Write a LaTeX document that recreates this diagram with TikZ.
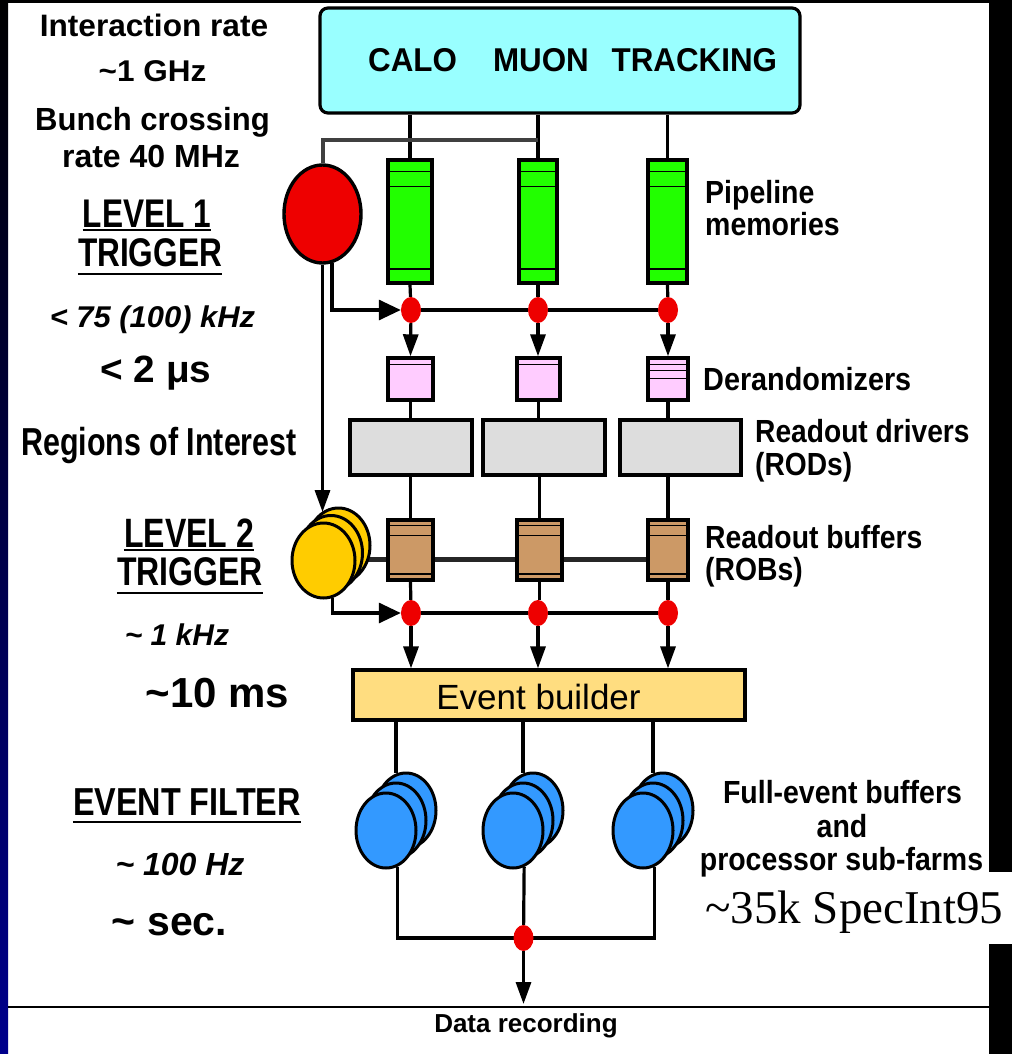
\documentclass[tikz,border=0pt]{standalone}
\usepackage{fontspec}
\setmainfont{Liberation Sans}
\newfontfamily\timesf{Liberation Serif}
\usetikzlibrary{arrows.meta,shapes.geometric,calc}
\pgfdeclarelayer{back}
\pgfdeclarelayer{bg}
\pgfsetlayers{back,bg,main}
\definecolor{cyanbox}{HTML}{99FFFF}
\definecolor{pipegreen}{HTML}{22FF00}
\definecolor{derpink}{HTML}{FFCCFF}
\definecolor{rodgray}{HTML}{DDDDDD}
\definecolor{robbrown}{HTML}{CC9966}
\definecolor{l2yellow}{HTML}{FFCC00}
\definecolor{ebyellow}{HTML}{FFDD80}
\definecolor{efblue}{HTML}{3399FF}
\definecolor{dotred}{HTML}{EE0000}
\definecolor{l1red}{HTML}{EE0000}
\definecolor{stripnavy}{RGB}{0,0,140}
\newcommand{\lb}[3]{\scalebox{#1}[1]{\fontsize{#2}{#2}\selectfont\bfseries #3}}
\newcommand{\lbi}[3]{\scalebox{#1}[1]{\fontsize{#2}{#2}\selectfont\bfseries\itshape #3}}
\newcommand{\lr}[3]{\scalebox{#1}[1]{\fontsize{#2}{#2}\selectfont #3}}
\begin{document}
\begin{tikzpicture}[x=1pt,y=-1pt,
  lbl/.style={inner sep=0pt,anchor=base},
  lblw/.style={inner sep=0pt,anchor=base west},
  conn/.style={line width=3.2pt,draw=black},
  arr/.style={conn,-{Triangle[length=22pt,width=15pt]}},
  harr/.style={conn,-{Triangle[length=22pt,width=20pt]}},
  dotn/.style={ellipse,fill=dotred,inner sep=0pt,minimum width=20pt,minimum height=26pt},
  unit/.style={draw=black,line width=3.4pt,inner sep=0pt},
  pipe/.style={unit,fill=pipegreen,minimum height=123pt},
  derand/.style={unit,fill=derpink,minimum height=42pt},
  rodbox/.style={unit,fill=rodgray,minimum width=122pt,minimum height=55pt},
  robbox/.style={unit,fill=robbrown,minimum height=60pt},
  l2e/.style={ellipse,draw=black,line width=3pt,fill=l2yellow,minimum width=63pt,minimum height=75pt,inner sep=0pt},
  efe/.style={ellipse,draw=black,line width=3pt,fill=efblue,minimum width=60pt,minimum height=75pt,inner sep=0pt},
  stripe/.style={line width=1.6pt},
  uline/.style={line width=2.6pt}
]
\useasboundingbox (0,0) rectangle (1012,1054);
\begin{pgfonlayer}{back}
  \fill[white] (0,0) rectangle (1012,1054);
  \shade[top color=black,bottom color=stripnavy] (0,0) rectangle (8,1054);
  \fill[black] (0,0) rectangle (1012,3);
  \fill[black] (989,0) rectangle (1012,872);
  \fill[black] (989,944) rectangle (1012,1054);
  \draw[line width=1.3pt,black] (8,1007) -- (989,1007);
\end{pgfonlayer}

% detector box
\node[draw=black,line width=3.2pt,rounded corners=8pt,fill=cyanbox,minimum width=480pt,minimum height=105pt] (det) at (560,60.5) {};
\node[lblw] (tdet) at (368,72) {\lb{0.95}{33}{CALO\hspace{38pt}MUON\hspace{24pt}TRACKING}};

% level 1 trigger
\node[ellipse,draw=black,line width=3.4pt,fill=l1red,minimum width=77pt,minimum height=98pt,inner sep=0pt] (l1) at (322.5,214) {};

% pipelines
\node[pipe,minimum width=44pt] (p1) at (410,221.5) {};
\node[pipe,minimum width=38pt] (p2) at (538,221.5) {};
\node[pipe,minimum width=39pt] (p3) at (667.5,221.5) {};
\foreach \n in {p1,p2,p3}{
  \draw[stripe] ([yshift=-13pt]\n.north west) -- ([yshift=-13pt]\n.north east);
  \draw[stripe] ([yshift=-28pt]\n.north west) -- ([yshift=-28pt]\n.north east);
  \draw[stripe] ([yshift=16pt]\n.south west) -- ([yshift=16pt]\n.south east);
}
\node[dotn] (d11) at (411,310) {};
\node[dotn] (d12) at (538,310) {};
\node[dotn] (d13) at (668,310) {};

% derandomizers
\node[derand,minimum width=45pt] (dr1) at (410.5,379) {};
\node[derand,minimum width=43pt] (dr2) at (538.5,379) {};
\node[derand,minimum width=40pt] (dr3) at (668,379) {};
\foreach \n in {dr1,dr2}{
  \draw[stripe] ([yshift=-8pt]\n.north west) -- ([yshift=-8pt]\n.north east);
}
\draw[stripe] ([yshift=-8pt]dr3.north west) -- ([yshift=-8pt]dr3.north east);
\draw[stripe] ([yshift=-14pt]dr3.north west) -- ([yshift=-14pt]dr3.north east);
\draw[stripe] ([yshift=-22pt]dr3.north west) -- ([yshift=-22pt]dr3.north east);

% RODs
\node[rodbox] (rod1) at (411,447.5) {};
\node[rodbox] (rod2) at (544,447.5) {};
\node[rodbox,minimum width=121pt] (rod3) at (680.5,447.5) {};

% ROBs
\node[robbox,minimum width=45pt] (rob1) at (410.5,550) {};
\node[robbox,minimum width=45pt] (rob2) at (539.5,550) {};
\node[robbox,minimum width=40pt] (rob3) at (668,550) {};
\foreach \n in {rob1,rob2,rob3}{
  \draw[stripe] ([yshift=-7pt]\n.north west) -- ([yshift=-7pt]\n.north east);
  \draw[stripe] ([yshift=-17pt]\n.north west) -- ([yshift=-17pt]\n.north east);
  \draw[stripe] ([yshift=8pt]\n.south west) -- ([yshift=8pt]\n.south east);
}

% level 2 trigger stack
\node[l2e] (l2c) at (338.5,545.5) {};
\node[l2e] (l2b) at (331,553) {};
\node[l2e] (l2a) at (323.5,560.5) {};

\node[dotn] (d21) at (411,613) {};
\node[dotn] (d22) at (538,613) {};
\node[dotn] (d23) at (668,613) {};

% event builder
\node[draw=black,line width=3.2pt,fill=ebyellow,minimum width=392pt,minimum height=50pt,inner sep=0pt] (eb) at (549,695) {};
\node[lbl] (teb) at (538.5,709) {\lr{1}{35}{Event builder}};

% event filter stacks
\node[efe] (b1c) at (406,810.5) {};
\node[efe] (b1b) at (396,820.5) {};
\node[efe] (b1a) at (386,830.5) {};
\node[efe] (b2c) at (533,810.5) {};
\node[efe] (b2b) at (523,820.5) {};
\node[efe] (b2a) at (513,830.5) {};
\node[efe] (b3c) at (663,810.5) {};
\node[efe] (b3b) at (653,820.5) {};
\node[efe] (b3a) at (643,830.5) {};
\node[dotn] (dd) at (523.5,938) {};
\coordinate (rec) at (523.5,1004);
\coordinate (j1) at (538,140);
\coordinate (busy) at (0,559);

% connectors
\begin{pgfonlayer}{bg}
  \draw[conn] (p1 |- det.south) -- (p1.north);
  \draw[conn] (p2 |- det.south) -- (p2.north);
  \draw[conn] (p3 |- det.south) -- (p3.north);
  \draw[conn,draw=black!75,line width=4pt] (l1.north) |- (j1);
  \draw[conn] (p1.south) -- (d11);
  \draw[conn] (p2.south) -- (d12);
  \draw[conn] (p3.south) -- (d13);
  \draw[conn] (d11) -- (d12) -- (d13);
  \draw[harr] (l1.-79) |- (d11.west);
  \draw[arr] (d11) -- (dr1.north);
  \draw[arr] (d12) -- (d12 |- dr2.north);
  \draw[arr] (d13) -- (dr3.north);
  \draw[conn] (dr1.south) -- (dr1.south |- rod1.north);
  \draw[conn] (dr2.south) -- (dr2.south |- rod2.north);
  \draw[conn] (dr3.south) -- (dr3.south |- rod3.north);
  \draw[conn] (rob1.north |- rod1.south) -- (rob1.north);
  \draw[conn] (rob2.north |- rod2.south) -- (rob2.north);
  \draw[conn] (rob3.north |- rod3.south) -- (rob3.north);
  \draw[conn,draw=black!85,line width=5pt] (l2b |- busy) -- (rob3 |- busy);
  \draw[arr] (l1.south) -- (l1.south |- l2c.117);
  \draw[conn] (rob1.south) -- (d21);
  \draw[conn] (rob2.south) -- (rob2.south |- d22.north);
  \draw[conn] (rob3.south) -- (d23);
  \draw[conn] (d21) -- (d22) -- (d23);
  \draw[harr] (l2a.-77) |- (d21.west);
  \draw[arr] (d21) -- (d21 |- eb.north);
  \draw[arr] (d22) -- (d22 |- eb.north);
  \draw[arr] (d23) -- (d23 |- eb.north);
  \draw[conn] (b1c.105 |- eb.south) -- (b1c.105);
  \draw[conn] (b2c.105 |- eb.south) -- (b2c.105);
  \draw[conn] (b3c.105 |- eb.south) -- (b3c.105);
  \draw[conn] (b1a.-73) -- (b1a.-73 |- dd) -- (b3a.-73 |- dd) -- (b3a.-73);
  \draw[conn] (b2a.-73) -- (dd);
  \draw[arr] (dd) -- (rec);
\end{pgfonlayer}

% left labels
\node[lbl] (tir) at (154,37) {\lb{1.02}{31}{Interaction rate}};
\node[lbl] (tghz) at (152.5,82) {\lb{1.05}{30}{\textasciitilde 1 GHz}};
\node[lbl] (tbc) at (152.5,131) {\lb{0.97}{32}{Bunch crossing}};
\node[lbl] (tr40) at (151,167) {\lb{1}{32}{rate 40 MHz}};
\node[lbl] (tl1a) at (147,227) {\lb{0.79}{40}{LEVEL 1}};
\node[lbl] (tl1b) at (150,266) {\lb{0.79}{40}{TRIGGER}};
\draw[line width=2.2pt] ([yshift=-2.6pt]tl1a.base west) -- ([yshift=-2.6pt]tl1a.base east);
\draw[uline] ([yshift=-8pt]tl1b.base west) -- ([yshift=-8pt]tl1b.base east);
\node[lbl] (tr1) at (152.5,327) {\lbi{1.03}{30}{< 75 (100) kHz}};
\node[lbl] (tt1) at (156,382) {\lb{1.02}{38}{< 2 μs}};
\node[lbl] (troi) at (159,455) {\lb{0.78}{39}{Regions of Interest}};
\node[lbl] (tl2a) at (189,547) {\lb{0.78}{41}{LEVEL 2}};
\node[lbl] (tl2b) at (190,585) {\lb{0.8}{40}{TRIGGER}};
\draw[line width=2.2pt] ([yshift=-2.8pt]tl2a.base west) -- ([yshift=-2.8pt]tl2a.base east);
\draw[uline] ([yshift=-8pt]tl2b.base west) -- ([yshift=-8pt]tl2b.base east);
\node[lbl] (tr2) at (177,645) {\lbi{1}{30}{\textasciitilde\ 1 kHz}};
\node[lbl] (tt2) at (217.5,707) {\lb{1}{42}{\textasciitilde10 ms}};
\node[lbl] (tef) at (187,815) {\lb{0.83}{39}{EVENT FILTER}};
\draw[uline] ([yshift=-7pt]tef.base west) -- ([yshift=-7pt]tef.base east);
\node[lbl] (tr3) at (180,875) {\lbi{1}{32}{\textasciitilde\ 100 Hz}};
\node[lbl] (tt3) at (169.5,935) {\lb{1}{41}{\textasciitilde\ sec.}};

% right labels
\node[lblw] (tpm1) at (705,203) {\lb{0.89}{32}{Pipeline}};
\node[lblw] (tpm2) at (705,235) {\lb{0.89}{32}{memories}};
\node[lblw] (tdr) at (703,390) {\lb{0.9}{32}{Derandomizers}};
\node[lblw] (trd1) at (755,442) {\lb{0.88}{32}{Readout drivers}};
\node[lblw] (trd2) at (755,475) {\lb{0.88}{32}{(RODs)}};
\node[lblw] (trb1) at (705,548) {\lb{0.885}{32}{Readout buffers}};
\node[lblw] (trb2) at (705,580) {\lb{0.885}{32}{(ROBs)}};
\node[lbl] (tfe1) at (842.5,803) {\lb{0.89}{32}{Full-event buffers}};
\node[lbl] (tfe2) at (842,837) {\lb{0.89}{32}{and}};
\node[lbl] (tfe3) at (841.5,870) {\lb{0.89}{32}{processor sub-farms}};
\node[lblw] (tsi) at (705,923) {\timesf\fontsize{47}{47}\selectfont\textasciitilde 35k SpecInt95};
\node[lbl] (tdat) at (526,1032) {\lb{1}{26}{Data recording}};
\end{tikzpicture}
\end{document}
